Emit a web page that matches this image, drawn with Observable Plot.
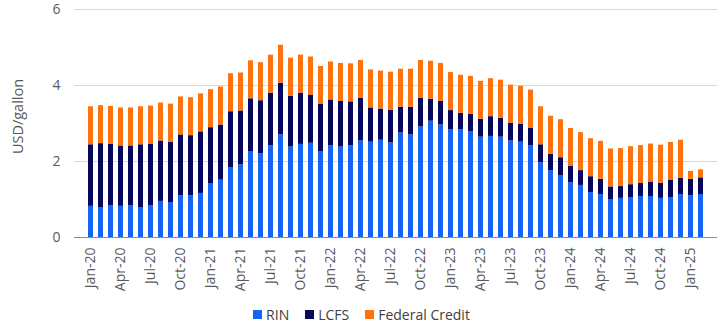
<!DOCTYPE html>
<html>
<head>
<meta charset="utf-8">
<script src="https://cdn.jsdelivr.net/npm/d3@7"></script>
<script src="https://cdn.jsdelivr.net/npm/@observablehq/plot@0.6"></script>
<style>
  html, body { margin: 0; padding: 0; background: #fff; }
  body { width: 723px; height: 332px; overflow: hidden; font-family: "Open Sans", sans-serif; }
  #chart svg { overflow: visible; }
  #legend { height: 36px; display: flex; justify-content: center; align-items: center; font-size: 14px; color: #404040; }
  #legend .item { display: flex; align-items: center; margin: 0 8px; }
  #legend .sw { width: 9px; height: 9px; margin-right: 4px; }
</style>
</head>
<body>
<div id="chart"></div>
<div id="legend"></div>
<script>
const months = [
  "Jan-20","Feb-20","Mar-20","Apr-20","May-20","Jun-20","Jul-20","Aug-20","Sep-20","Oct-20","Nov-20","Dec-20",
  "Jan-21","Feb-21","Mar-21","Apr-21","May-21","Jun-21","Jul-21","Aug-21","Sep-21","Oct-21","Nov-21","Dec-21",
  "Jan-22","Feb-22","Mar-22","Apr-22","May-22","Jun-22","Jul-22","Aug-22","Sep-22","Oct-22","Nov-22","Dec-22",
  "Jan-23","Feb-23","Mar-23","Apr-23","May-23","Jun-23","Jul-23","Aug-23","Sep-23","Oct-23","Nov-23","Dec-23",
  "Jan-24","Feb-24","Mar-24","Apr-24","May-24","Jun-24","Jul-24","Aug-24","Sep-24","Oct-24","Nov-24","Dec-24",
  "Jan-25","Feb-25"
];
const rin = [
  0.82,0.79,0.84,0.82,0.84,0.79,0.84,0.95,0.92,1.10,1.10,1.16,
  1.42,1.51,1.84,1.91,2.25,2.20,2.41,2.70,2.38,2.45,2.48,2.25,
  2.41,2.38,2.41,2.54,2.51,2.56,2.49,2.75,2.70,2.91,3.06,2.96,
  2.83,2.83,2.78,2.64,2.66,2.64,2.54,2.51,2.42,1.97,1.76,1.63,
  1.44,1.37,1.18,1.13,1.00,1.03,1.05,1.08,1.08,1.03,1.05,1.13,
  1.10,1.13
];
const lcfs = [
  1.62,1.68,1.61,1.59,1.57,1.65,1.62,1.59,1.59,1.60,1.58,1.62,
  1.47,1.45,1.47,1.42,1.40,1.40,1.39,1.36,1.34,1.35,1.27,1.25,
  1.21,1.20,1.16,1.12,0.90,0.82,0.86,0.68,0.73,0.75,0.58,0.62,
  0.51,0.44,0.46,0.47,0.52,0.50,0.47,0.47,0.46,0.47,0.43,0.47,
  0.43,0.39,0.42,0.40,0.33,0.31,0.34,0.34,0.38,0.40,0.45,0.43,
  0.43,0.44
];
const federalCredit = [
  1.00,1.00,1.00,1.00,1.00,1.00,1.00,1.00,1.00,1.00,1.00,1.00,
  1.00,1.00,1.00,1.00,1.00,1.00,1.00,1.00,1.00,1.00,1.00,1.00,
  1.00,1.00,1.00,1.00,1.00,1.00,1.00,1.00,1.00,1.00,1.00,1.00,
  1.00,1.00,1.00,1.00,1.00,1.00,1.00,1.00,1.00,1.00,1.00,1.00,
  1.00,1.00,1.00,1.00,1.00,1.00,1.00,1.00,1.00,1.00,1.00,1.00,
  0.21,0.21
];
const seriesNames = ["RIN", "LCFS", "Federal Credit"];
const seriesColors = ["#1464F6", "#07075C", "#FF730F"];
const yTicks = [0, 2, 4, 6];
const yLabel = "USD/gallon";
const xTickLabels = months.filter((d, i) => i % 3 === 0);

const seriesValues = [rin, lcfs, federalCredit];
const data = [];
seriesNames.forEach((s, si) => {
  months.forEach((m, i) => data.push({month: m, series: s, value: seriesValues[si][i]}));
});

const font = "'Open Sans', sans-serif";
const chart = Plot.plot({
  width: 723,
  height: 296,
  marginLeft: 74,
  marginRight: 6,
  marginTop: 9,
  marginBottom: 59,
  style: {fontFamily: font, fontSize: "14px", color: "#595959", background: "#fff", overflow: "visible"},
  x: {domain: months, paddingInner: 0.47, paddingOuter: 0.235},
  y: {domain: [0, 6]},
  color: {domain: seriesNames, range: seriesColors},
  marks: [
    Plot.gridY([2, 4, 6], {stroke: "#d9d9d9", strokeOpacity: 1}),
    Plot.barY(data, {x: "month", y: "value", fill: "series", order: seriesNames}),
    Plot.ruleY([0], {stroke: "#8c8c8c", strokeWidth: 1}),
    Plot.axisY(yTicks, {tickSize: 0, tickPadding: 14, fontSize: 14, label: null}),
    Plot.text([yLabel], {frameAnchor: "left", textAnchor: "middle", text: d => d, rotate: -90, dx: -56, dy: -7, fontSize: 14.5, fill: "#595959"}),
    Plot.axisX(xTickLabels, {tickSize: 0, tickPadding: 10, tickRotate: -90, fontSize: 14, label: null})
  ]
});
document.getElementById("chart").appendChild(chart);

const legend = document.getElementById("legend");
seriesNames.forEach((s, i) => {
  const item = document.createElement("span");
  item.className = "item";
  const sw = document.createElement("span");
  sw.className = "sw";
  sw.style.background = seriesColors[i];
  const t = document.createElement("span");
  t.textContent = s;
  item.appendChild(sw);
  item.appendChild(t);
  legend.appendChild(item);
});
</script>
</body>
</html>
